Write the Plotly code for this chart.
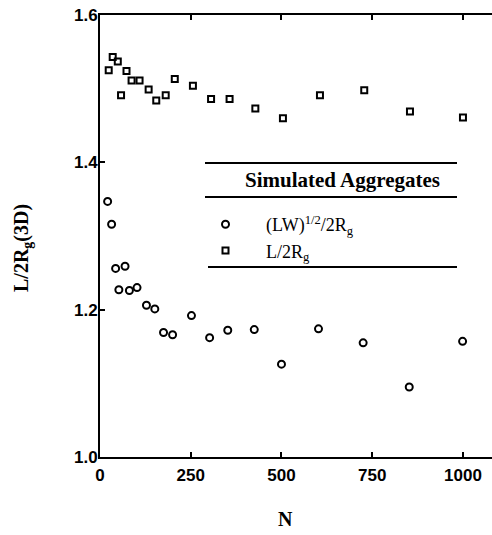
import plotly.graph_objects as go

# ---- data ----
sq_N = [24, 35, 49, 58, 73, 87, 109, 134, 155, 181, 206, 256, 306, 357, 428, 504, 606, 728, 854, 1000]
sq_y = [1.525, 1.543, 1.537, 1.491, 1.524, 1.511, 1.511, 1.499, 1.484, 1.491, 1.513, 1.504,
        1.486, 1.486, 1.473, 1.460, 1.491, 1.498, 1.469, 1.461]
ci_N = [21, 32, 43, 52, 69, 81, 102, 128, 151, 175, 200, 252, 302, 352, 425, 500, 602, 725, 852, 999]
ci_y = [1.347, 1.316, 1.256, 1.227, 1.259, 1.226, 1.230, 1.206, 1.201, 1.169, 1.166, 1.192,
        1.162, 1.172, 1.173, 1.126, 1.174, 1.155, 1.095, 1.157]

x_ticks = [0, 250, 500, 750, 1000]
y_ticks = [1.0, 1.2, 1.4, 1.6]
y_tick_labels = ["1.0", "1.2", "1.4", "1.6"]

legend_title = "Simulated Aggregates"
name_ci = "(LW)<sup>1/2</sup>/2R<sub>g</sub>"
name_sq = "L/2R<sub>g</sub>"

SERIF = "Liberation Serif"
SANS = "Liberation Sans"

fig = go.Figure()
fig.add_trace(go.Scatter(
    x=ci_N, y=ci_y, mode="markers", name=name_ci,
    marker=dict(symbol="circle-open", size=7, color="black", line=dict(width=2, color="black")),
))
fig.add_trace(go.Scatter(
    x=sq_N, y=sq_y, mode="markers", name=name_sq,
    marker=dict(symbol="square-open", size=6, color="black", line=dict(width=2, color="black")),
))

W, H = 492, 535
L, R, T, B = 100, 0, 15, 78
pw, ph = W - L - R, H - T - B


def px(xp):
    return (xp - L) / pw


def py(yp):
    return (H - B - yp) / ph


fig.update_layout(
    width=W, height=H,
    margin=dict(l=L, r=R, t=T, b=B),
    paper_bgcolor="white", plot_bgcolor="white",
    showlegend=True,
    legend=dict(
        x=px(185), y=py(206), xanchor="left", yanchor="top",
        bgcolor="rgba(0,0,0,0)",
        font=dict(family=SERIF, size=18, color="black"),
        itemwidth=71,
        tracegroupgap=0,
    ),
    xaxis=dict(
        range=[0, 1080], tickvals=x_ticks, ticks="inside", ticklen=5, tickwidth=1.5,
        tickcolor="black", showline=True, linecolor="black", linewidth=2,
        mirror="ticks", showgrid=False, zeroline=False,
        tickfont=dict(family=SANS, size=17, color="black", weight="bold"),
        ticklabelstandoff=2,
    ),
    yaxis=dict(
        range=[1.0, 1.6], tickvals=y_ticks, ticktext=y_tick_labels, ticks="inside",
        ticklen=5, tickwidth=1.5, tickcolor="black", showline=True, linecolor="black",
        linewidth=2, mirror=False, showgrid=False, zeroline=False,
        tickfont=dict(family=SANS, size=17, color="black", weight="bold"),
        ticklabelstandoff=-3,
    ),
)

# legend frame lines
for (x0, x1, yy) in [(205, 457, 163), (205, 457, 197), (208, 457, 267)]:
    fig.add_shape(type="line", xref="paper", yref="paper",
                  x0=px(x0), x1=px(x1), y0=py(yy), y1=py(yy),
                  line=dict(color="black", width=2))

fig.add_annotation(text=legend_title, xref="paper", yref="paper",
                   x=px(342.5), y=py(180), xanchor="center", yanchor="middle",
                   showarrow=False,
                   font=dict(family=SERIF, size=21, color="black", weight="bold"))

# axis titles
fig.add_annotation(text="L/2R<sub>g</sub>(3D)", xref="paper", yref="paper",
                   x=px(22), y=py(248), xanchor="center", yanchor="middle",
                   textangle=-90, showarrow=False,
                   font=dict(family=SERIF, size=20, color="black", weight="bold"))
fig.add_annotation(text="N", xref="paper", yref="paper",
                   x=px(285), y=py(519), xanchor="center", yanchor="middle",
                   showarrow=False,
                   font=dict(family=SERIF, size=20, color="black", weight="bold"))

fig.write_html("out.html")
